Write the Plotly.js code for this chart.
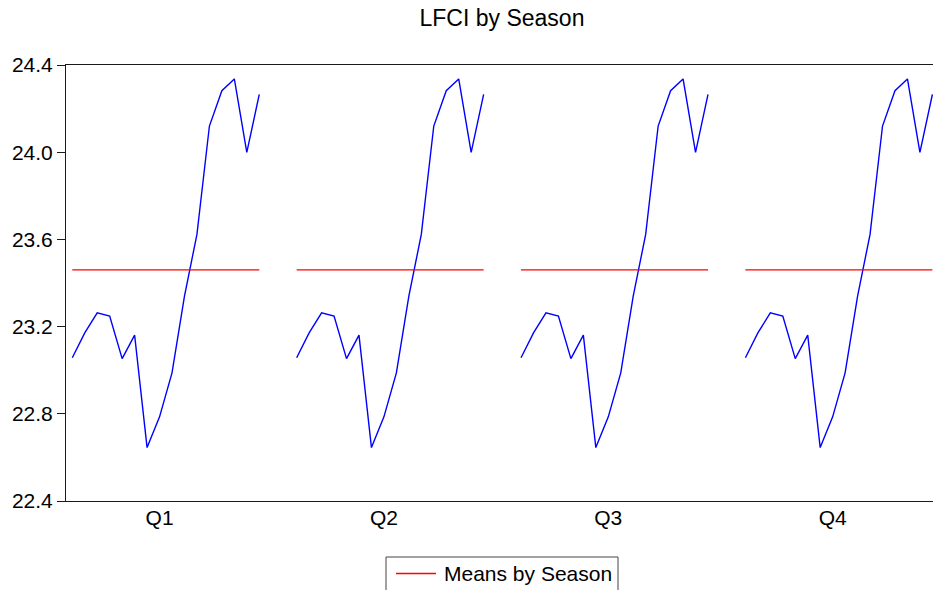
<!DOCTYPE html>
<html>
<head>
<meta charset="utf-8">
<script src="https://cdn.plot.ly/plotly-3.0.1.min.js"></script>
<style>
  html, body { margin: 0; padding: 0; background: #ffffff; }
  #chart { width: 933px; height: 590px; }
</style>
</head>
<body>
<div id="chart"></div>
<script>
// LFCI observations within each season (16 years per quarter)
const lfciQ1 = [23.057, 23.171, 23.263, 23.248, 23.053, 23.161, 22.645, 22.786,
                22.988, 23.340, 23.623, 24.120, 24.282, 24.336, 23.999, 24.265];
const lfciQ2 = [23.057, 23.171, 23.263, 23.248, 23.053, 23.161, 22.645, 22.786,
                22.988, 23.340, 23.623, 24.120, 24.282, 24.336, 23.999, 24.265];
const lfciQ3 = [23.057, 23.171, 23.263, 23.248, 23.053, 23.161, 22.645, 22.786,
                22.988, 23.340, 23.623, 24.120, 24.282, 24.336, 23.999, 24.265];
const lfciQ4 = [23.057, 23.171, 23.263, 23.248, 23.053, 23.161, 22.645, 22.786,
                22.988, 23.340, 23.623, 24.120, 24.282, 24.336, 23.999, 24.265];

// Mean of LFCI for each season
const seasonMeans = [23.46, 23.46, 23.46, 23.46];

// Season labels on the horizontal axis
const seasonLabels = ['Q1', 'Q2', 'Q3', 'Q4'];

const seasonSeries = [lfciQ1, lfciQ2, lfciQ3, lfciQ4];

// Each season occupies a block of slots: its observations, then a two-slot gap
const BLOCK = 18;

const traces = [];
seasonSeries.forEach((vals, s) => {
  const xs = vals.map((_, j) => s * BLOCK + j);
  traces.push({
    type: 'scatter', mode: 'lines',
    x: xs, y: vals,
    line: { color: '#0000FF', width: 1.4 },
    name: 'LFCI', showlegend: false, hoverinfo: 'y'
  });
});
seasonMeans.forEach((m, s) => {
  const n = seasonSeries[s].length;
  traces.push({
    type: 'scatter', mode: 'lines',
    x: [s * BLOCK, s * BLOCK + n - 1], y: [m, m],
    line: { color: '#FF0000', width: 1.4 },
    name: 'Means by Season', showlegend: false, hoverinfo: 'y'
  });
});

const FONT = '"Liberation Sans", Arial, Helvetica, sans-serif';

// Plot-area geometry in pixels, used to place the legend box below the axes
const W = 933, H = 590;
const M = { l: 66, r: 0, t: 65, b: 89 };
const plotW = W - M.l - M.r, plotH = H - M.t - M.b;
const px = (x) => (x - M.l) / plotW;          // pixel x -> paper x
const py = (y) => (H - M.b - y) / plotH;      // pixel y -> paper y

// Legend: framed box with a red line sample and its label
const legendBox = { left: 386, right: 618, top: 557, bottom: 600 };
const legendRowY = 573.5;

const layout = {
  width: W, height: H,
  paper_bgcolor: '#ffffff', plot_bgcolor: '#ffffff',
  margin: Object.assign({ autoexpand: false }, M),
  font: { family: FONT, size: 21, color: '#000000' },
  title: {
    text: 'LFCI by Season',
    font: { family: FONT, size: 23, color: '#000000' },
    x: 502 / W, xref: 'container', xanchor: 'center',
    y: 0.969, yref: 'container', yanchor: 'middle'
  },
  xaxis: {
    range: [-0.505, 69.05],
    showgrid: false, zeroline: false,
    showline: true, mirror: true, linecolor: '#1a1a1a', linewidth: 1,
    ticks: '',
    tickmode: 'array',
    tickvals: seasonLabels.map((_, s) => s * BLOCK + 7),
    ticktext: seasonLabels,
    ticklabelstandoff: -2,
    tickfont: { family: FONT, size: 21, color: '#000000' }
  },
  yaxis: {
    range: [22.4, 24.4],
    tickmode: 'linear', tick0: 22.4, dtick: 0.4, tickformat: '.1f',
    showgrid: false, zeroline: false,
    showline: true, mirror: false, linecolor: '#1a1a1a', linewidth: 1,
    ticks: 'outside', ticklen: 8, tickwidth: 1, tickcolor: '#1a1a1a',
    tickfont: { family: FONT, size: 21, color: '#000000' }
  },
  showlegend: false,
  shapes: [
    {
      type: 'rect', xref: 'paper', yref: 'paper', layer: 'above',
      x0: px(legendBox.left), x1: px(legendBox.right),
      y0: py(legendBox.bottom), y1: py(legendBox.top),
      line: { color: '#444444', width: 1 }, fillcolor: '#ffffff'
    },
    {
      type: 'line', xref: 'paper', yref: 'paper', layer: 'above',
      x0: px(396), x1: px(436), y0: py(legendRowY), y1: py(legendRowY),
      line: { color: '#FF0000', width: 1.4 }
    }
  ],
  annotations: [
    {
      text: 'Means by Season', xref: 'paper', yref: 'paper',
      x: px(442), y: py(legendRowY), xanchor: 'left', yanchor: 'middle',
      showarrow: false,
      font: { family: FONT, size: 21, color: '#000000' }
    }
  ]
};

Plotly.newPlot('chart', traces, layout, { displayModeBar: false, staticPlot: true });
</script>
</body>
</html>
